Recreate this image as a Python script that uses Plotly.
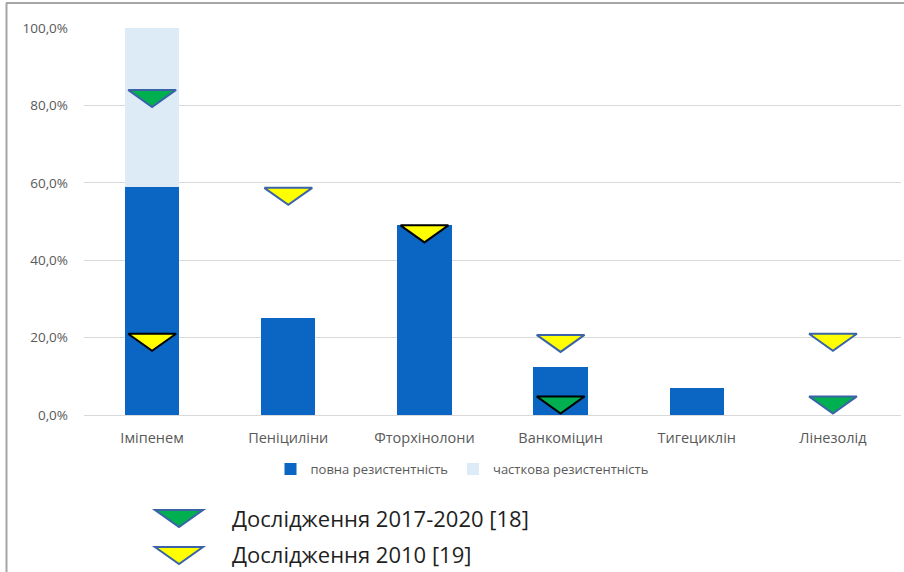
import plotly.graph_objects as go

# Resistance of isolates by antibiotic group, %
categories = ["Іміпенем", "Пеніциліни", "Фторхінолони", "Ванкоміцин", "Тигециклін", "Лінезолід"]
full_resistance = [58.8, 25.0, 49.0, 12.5, 7.0, 0.0]
partial_resistance = [41.2, 0.0, 0.0, 0.0, 0.0, 0.0]

# Reference values from earlier studies (level of the triangle's upper edge)
study_2017_2020 = [84.0, None, None, 4.8, None, 4.8]
study_2010 = [21.0, 58.7, 49.0, 20.7, None, 21.0]

y_ticks = [0, 20, 40, 60, 80, 100]
y_tick_labels = [f"{v:.1f}%".replace(".", ",") for v in y_ticks]

FULL_COLOR = "#0A66C2"
PARTIAL_COLOR = "#DDEBF7"
GREEN = "#00B050"
YELLOW = "#FFFF00"
EDGE_BLUE = "#3B64A8"
GRID = "#D9D9D9"
LABEL = "#595959"
FONT = "'Open Sans', 'Noto Sans', sans-serif"

W, H = 904, 572
ML, MR, MT, MB = 84, 3, 28, 157
PW, PH = W - ML - MR, H - MT - MB

TRI_HALF_W = 0.176   # in category units
TRI_H = 4.4          # in percentage points

idx = list(range(len(categories)))

fig = go.Figure()
fig.add_trace(go.Bar(x=idx, y=full_resistance, name="повна резистентність",
                     marker=dict(color=FULL_COLOR, line=dict(width=0)), width=0.4))
fig.add_trace(go.Bar(x=idx, y=partial_resistance, name="часткова резистентність",
                     marker=dict(color=PARTIAL_COLOR, line=dict(width=0)), width=0.4))


def add_triangles(values, fill):
    for i, v in enumerate(values):
        if v is None:
            continue
        edge = "#000000" if v <= full_resistance[i] else EDGE_BLUE
        fig.add_trace(go.Scatter(
            x=[i - TRI_HALF_W, i + TRI_HALF_W, i, i - TRI_HALF_W],
            y=[v, v, v - TRI_H, v],
            mode="lines", fill="toself", fillcolor=fill,
            line=dict(color=edge, width=2), showlegend=False, hoverinfo="skip"))


add_triangles(study_2017_2020, GREEN)
add_triangles(study_2010, YELLOW)


def px(xp):
    return (xp - ML) / PW


def py(yp):
    return (H - MB - yp) / PH


shapes = [
    # chart frame (top and left edges)
    dict(type="line", xref="paper", yref="paper", x0=px(6), x1=px(904), y0=py(3), y1=py(3),
         line=dict(color="#A6A6A6", width=2)),
    dict(type="line", xref="paper", yref="paper", x0=px(6.5), x1=px(6.5), y0=py(3), y1=py(572),
         line=dict(color="#A6A6A6", width=2)),
]


def legend_triangle(x0, x1, ytop, ybot, fill):
    xm = (x0 + x1) / 2
    path = f"M{px(x0)},{py(ytop)} L{px(x1)},{py(ytop)} L{px(xm)},{py(ybot)} Z"
    return dict(type="path", xref="paper", yref="paper", path=path, fillcolor=fill,
                line=dict(color=EDGE_BLUE, width=2))


shapes.append(legend_triangle(155, 203, 510, 527, GREEN))
shapes.append(legend_triangle(155, 203, 547, 564, YELLOW))

annotations = [
    dict(xref="paper", yref="paper", x=px(230), y=py(518), xanchor="left", yanchor="middle",
         text="Дослідження 2017-2020 [18]", showarrow=False,
         font=dict(family=FONT, size=22, color="#1F1F1F")),
    dict(xref="paper", yref="paper", x=px(230), y=py(554), xanchor="left", yanchor="middle",
         text="Дослідження 2010 [19]", showarrow=False,
         font=dict(family=FONT, size=22, color="#1F1F1F")),
]

fig.update_layout(
    width=W, height=H,
    margin=dict(l=ML, r=MR, t=MT, b=MB),
    barmode="stack",
    plot_bgcolor="white", paper_bgcolor="white",
    font=dict(family=FONT, size=13, color=LABEL),
    shapes=shapes, annotations=annotations,
    hovermode=False,
    legend=dict(orientation="h", x=px(462), xanchor="center", y=py(469), yanchor="middle",
                font=dict(size=13, color=LABEL), traceorder="normal", itemwidth=30),
    xaxis=dict(range=[-0.5, 5.5], tickmode="array", tickvals=idx, ticktext=categories,
               showgrid=False, zeroline=False, showline=False, ticks="",
               ticklabelstandoff=12, tickfont=dict(size=14.5, color=LABEL)),
    yaxis=dict(range=[0, 100], tickmode="array", tickvals=y_ticks, ticktext=y_tick_labels,
               showgrid=True, gridcolor=GRID, gridwidth=1,
               zeroline=True, zerolinecolor=GRID, zerolinewidth=1,
               showline=False, ticks="", ticklabelstandoff=15,
               tickfont=dict(size=13.5, color=LABEL)),
)

fig.write_html("out.html")
